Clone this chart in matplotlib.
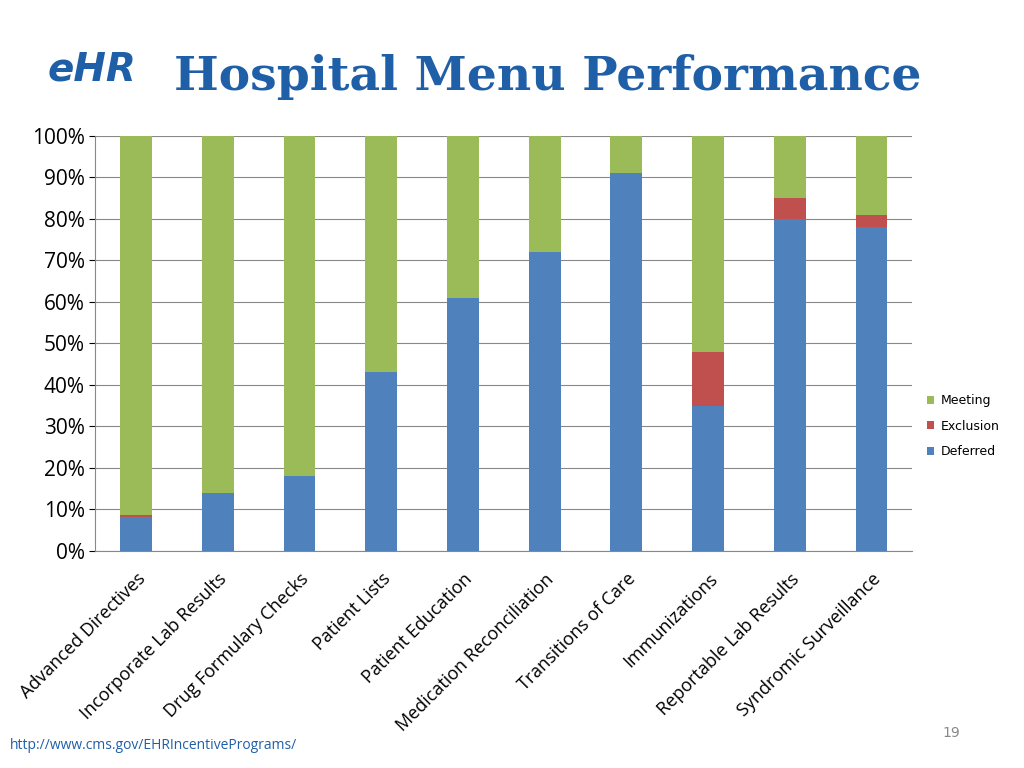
import matplotlib.pyplot as plt
import numpy as np

categories = ['Advanced Directives', 'Incorporate Lab Results', 'Drug Formulary Checks',
              'Patient Lists', 'Patient Education', 'Medication Reconciliation',
              'Transitions of Care', 'Immunizations', 'Reportable Lab Results',
              'Syndromic Surveillance']
deferred = [8, 14, 18, 43, 61, 72, 91, 35, 80, 78]
exclusion = [0.5, 0, 0, 0, 0, 0, 0, 13, 5, 3]
meeting = [100 - d - e for d, e in zip(deferred, exclusion)]

fig = plt.figure(figsize=(10.24, 7.68), dpi=100)
ax = fig.add_axes([0.093, 0.283, 0.798, 0.54])
x = np.arange(len(categories))
w = 0.39
ax.bar(x, deferred, w, color='#4F81BD', label='Deferred', zorder=3)
ax.bar(x, exclusion, w, bottom=deferred, color='#C0504D', label='Exclusion', zorder=3)
bot = [d + e for d, e in zip(deferred, exclusion)]
ax.bar(x, meeting, w, bottom=bot, color='#9BBB59', label='Meeting', zorder=3)

ax.set_ylim(0, 100)
ax.set_xlim(-0.5, len(categories) - 0.5)
ax.set_yticks(range(0, 101, 10))
ax.set_yticklabels([f'{v}%' for v in range(0, 101, 10)], fontsize=15, family='Open Sans')
ax.set_xticks(x)
ax.set_xticklabels(categories, rotation=45, ha='right', rotation_mode='anchor',
                   fontsize=13, family='Open Sans')
for t in ax.get_xticklabels():
    t.set_x(0)
ax.tick_params(axis='x', length=0, pad=14)
ax.tick_params(axis='y', length=4)
ax.grid(axis='y', color='#888888', lw=0.8, zorder=0)
for s in ['top', 'right']:
    ax.spines[s].set_visible(False)
ax.spines['left'].set_color('#888888')
ax.spines['bottom'].set_color('#888888')

h, l = ax.get_legend_handles_labels()
fig.legend(h[::-1], l[::-1], loc='center left', bbox_to_anchor=(0.9, 0.445),
           frameon=False, fontsize=9, handlelength=0.6, handleheight=0.6,
           labelspacing=1.0, handletextpad=0.5, borderaxespad=0)

fig.text(0.17, 0.9, 'Hospital Menu Performance', fontsize=34, fontweight='bold',
         family='DejaVu Serif', color='#1F5FA8', va='center')
fig.text(0.09, 0.91, 'eHR', fontsize=28, fontweight='bold', color='#1F5FA8',
         ha='center', va='center', style='italic')
fig.text(0.01, 0.025, 'http://www.cms.gov/EHRIncentivePrograms/', fontsize=10,
         color='#1F5FA8', family='Open Sans')
fig.text(0.92, 0.04, '19', fontsize=10, color='#888888')

fig.savefig('out.png')
